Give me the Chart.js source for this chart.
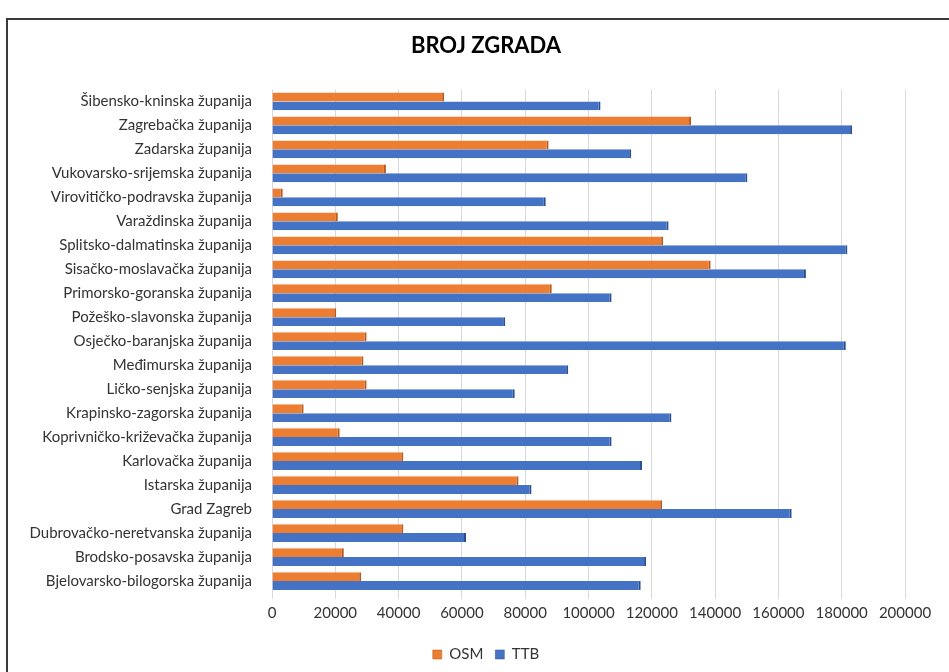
<!DOCTYPE html>
<html>
<head>
<meta charset="utf-8">
<script src="https://cdn.jsdelivr.net/npm/chart.js@4/dist/chart.umd.min.js"></script>
<style>
  body { margin: 0; background: #fff; }
  #frame { position: absolute; left: 6px; top: 18px; width: 960px; height: 670px; border: 2px solid #3a3a3a; box-sizing: border-box; background: #fff; }
  #wrap { position: absolute; left: 0; top: 0; width: 941px; height: 652px; }
</style>
</head>
<body>
<div id="frame"><div id="wrap"><canvas id="zgradeChart"></canvas></div></div>
<script>
// Županije, od vrha prema dnu kao na slici
const zupanije = [
    "Šibensko-kninska županija",
    "Zagrebačka županija",
    "Zadarska županija",
    "Vukovarsko-srijemska županija",
    "Virovitičko-podravska županija",
    "Varaždinska županija",
    "Splitsko-dalmatinska županija",
    "Sisačko-moslavačka županija",
    "Primorsko-goranska županija",
    "Požeško-slavonska županija",
    "Osječko-baranjska županija",
    "Međimurska županija",
    "Ličko-senjska županija",
    "Krapinsko-zagorska županija",
    "Koprivničko-križevačka županija",
    "Karlovačka županija",
    "Istarska županija",
    "Grad Zagreb",
    "Dubrovačko-neretvanska županija",
    "Brodsko-posavska županija",
    "Bjelovarsko-bilogorska županija"
];

const osm = [54400, 132400, 87400, 36000, 3400, 20800, 123600, 138600, 88400, 20300, 29900,
             28900, 29900, 10000, 21400, 41500, 77900, 123300, 41500, 22700, 28200];
const ttb = [103800, 183300, 113500, 150200, 86500, 125300, 181800, 168700, 107300, 73700, 181300,
             93600, 76700, 126200, 107300, 116900, 82000, 164200, 61300, 118200, 116500];

const xTicks = [0, 20000, 40000, 60000, 80000, 100000, 120000, 140000, 160000, 180000, 200000];

// Naslov i legenda su na slici malo desno od sredine platna
const centerShift = {
    id: 'centerShift',
    afterLayout: (chart) => {
        chart.titleBlock.left += 59;
        chart.legend.left += 59;
    }
};

const ctx = document.getElementById('zgradeChart').getContext('2d');
new Chart(ctx, {
    type: 'bar',
    data: {
        labels: zupanije,
        datasets: [
            {
                label: 'OSM',
                data: osm,
                backgroundColor: '#ed7d31',
                borderColor: '#b85a1c',
                borderWidth: { top: 0, bottom: 0, left: 0, right: 2 },
                borderSkipped: false
            },
            {
                label: 'TTB',
                data: ttb,
                backgroundColor: '#4472c4',
                borderColor: '#2c4f8f',
                borderWidth: { top: 0, bottom: 0, left: 0, right: 2 },
                borderSkipped: false
            }
        ]
    },
    options: {
        indexAxis: 'y',
        responsive: true,
        maintainAspectRatio: false,
        animation: false,
        layout: { padding: { left: 0, right: 44, top: 0, bottom: 0 } },
        datasets: { bar: { categoryPercentage: 0.74, barPercentage: 1.0 } },
        plugins: {
            title: {
                display: true,
                text: 'BROJ ZGRADA',
                color: '#000',
                font: { family: 'Lato', size: 22, weight: 'bold' },
                padding: { top: 13, bottom: 30 }
            },
            legend: {
                position: 'bottom',
                labels: {
                    boxWidth: 9,
                    boxHeight: 9,
                    color: '#333',
                    font: { family: 'Lato', size: 15 },
                    padding: 12
                }
            },
            tooltip: { enabled: false }
        },
        scales: {
            x: {
                min: 0,
                max: 200000,
                afterBuildTicks: (scale) => { scale.ticks = xTicks.map(v => ({ value: v })); },
                afterFit: (scale) => { scale.height += 8; },
                grid: { color: '#d9d9d9', drawTicks: true, tickLength: 6 },
                border: { display: false },
                ticks: {
                    color: '#333',
                    font: { family: 'Lato', size: 15 },
                    padding: 5,
                    maxRotation: 0,
                    callback: (v) => String(v)
                }
            },
            y: {
                grid: { display: false },
                border: { display: false },
                afterFit: (scale) => { scale.width = 264; },
                ticks: {
                    color: '#333',
                    font: { family: 'Lato', size: 15 },
                    padding: 12,
                    autoSkip: false
                }
            }
        }
    },
    plugins: [centerShift]
});
</script>
</body>
</html>
